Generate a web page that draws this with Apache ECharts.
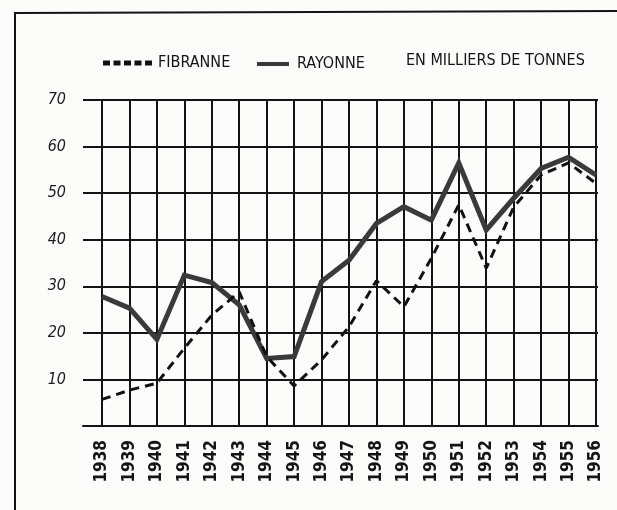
<!DOCTYPE html>
<html>
<head>
<meta charset="utf-8">
<script src="https://cdn.jsdelivr.net/npm/echarts@6/dist/echarts.min.js"></script>
<style>
html,body{margin:0;padding:0;background:#fcfcfa;}
#chart{width:617px;height:510px;}
</style>
</head>
<body>
<div id="chart"></div>
<script>
const years = ['1938','1939','1940','1941','1942','1943','1944','1945','1946','1947','1948','1949','1950','1951','1952','1953','1954','1955','1956'];
const fibranne = [5.7, 7.7, 9.2, 16.7, 23.8, 28.8, 14.9, 8.6, 14.2, 21.3, 31.2, 25.6, 36.0, 47.5, 33.9, 47.0, 53.9, 56.5, 52.1];
const rayonne = [27.8, 25.3, 18.6, 32.4, 30.8, 26.0, 14.5, 14.9, 31.0, 35.6, 43.5, 47.1, 44.2, 56.5, 42.1, 48.9, 55.3, 57.7, 53.9];
const yTicks = { min: 0, max: 70, interval: 10 };
const unitNote = 'EN MILLIERS DE TONNES';

const FONT = '"DejaVu Sans Condensed", "DejaVu Sans", sans-serif';
const INK = '#141414';
const DASH_ICON = 'path://M0,0h7v5h-7z M10.5,0h7v5h-7z M21,0h7v5h-7z M31.5,0h7v5h-7z M42,0h7v5h-7z';

const chart = echarts.init(document.getElementById('chart'), null, { renderer: 'canvas' });
chart.setOption({
  backgroundColor: '#fcfcfa',
  animation: false,
  title: {
    text: unitNote,
    left: 401, top: 48,
    textStyle: { fontFamily: FONT, fontSize: 16, fontWeight: 'normal', color: INK }
  },
  legend: [
    {
      data: [{ name: 'FIBRANNE', icon: DASH_ICON }], left: 98, top: 50, itemWidth: 49, itemHeight: 5, itemGap: 6,
      textStyle: { fontFamily: FONT, fontSize: 16, color: INK, padding: [0, 0, 4, 1] }
    },
    {
      data: [{ name: 'RAYONNE', icon: 'rect' }], left: 252, top: 51, itemWidth: 32, itemHeight: 4,
      textStyle: { fontFamily: FONT, fontSize: 16, color: INK, padding: [0, 0, 5, 3] }
    }
  ],
  grid: [
    { left: 83, right: 19, top: 100, bottom: 84 },
    { left: 102, right: 21, top: 100, bottom: 84 }
  ],
  xAxis: [
    {
      gridIndex: 0, type: 'value', min: 0, max: 1,
      axisLine: { show: true, lineStyle: { color: INK, width: 2 } },
      axisTick: { show: false }, axisLabel: { show: false }, splitLine: { show: false }
    },
    {
      gridIndex: 1, type: 'category', data: years, boundaryGap: false,
      axisLine: { show: false }, axisTick: { show: false },
      axisLabel: {
        rotate: 90, margin: 14, interval: 0,
        fontFamily: FONT, fontSize: 17, fontWeight: 'bold', color: INK
      },
      splitLine: { show: true, interval: 0, lineStyle: { color: INK, width: 2 } }
    }
  ],
  yAxis: [
    {
      gridIndex: 0, type: 'value', min: yTicks.min, max: yTicks.max, interval: yTicks.interval,
      axisLine: { show: false }, axisTick: { show: false },
      axisLabel: {
        margin: 17, showMinLabel: false,
        fontFamily: FONT, fontSize: 16, fontStyle: 'italic', color: '#1c1c1c'
      },
      splitLine: { show: true, lineStyle: { color: INK, width: 2 } }
    },
    {
      gridIndex: 1, type: 'value', min: yTicks.min, max: yTicks.max, interval: yTicks.interval,
      show: false, splitLine: { show: false }
    }
  ],
  series: [
    {
      name: 'RAYONNE', type: 'line', xAxisIndex: 1, yAxisIndex: 1,
      data: rayonne, symbol: 'none', z: 3,
      itemStyle: { color: '#3a3a3a' },
      lineStyle: { color: '#3a3a3a', width: 5, join: 'miter' }
    },
    {
      name: 'FIBRANNE', type: 'line', xAxisIndex: 1, yAxisIndex: 1,
      data: fibranne, symbol: 'none', z: 4,
      itemStyle: { color: '#111' },
      lineStyle: { color: '#111', width: 3, type: [9, 6] }
    }
  ],
  graphic: [
    {
      type: 'polyline', silent: true,
      shape: { points: [[15, 510], [15, 13], [617, 11]] },
      style: { stroke: INK, lineWidth: 2, fill: null }
    }
  ]
});
</script>
</body>
</html>
